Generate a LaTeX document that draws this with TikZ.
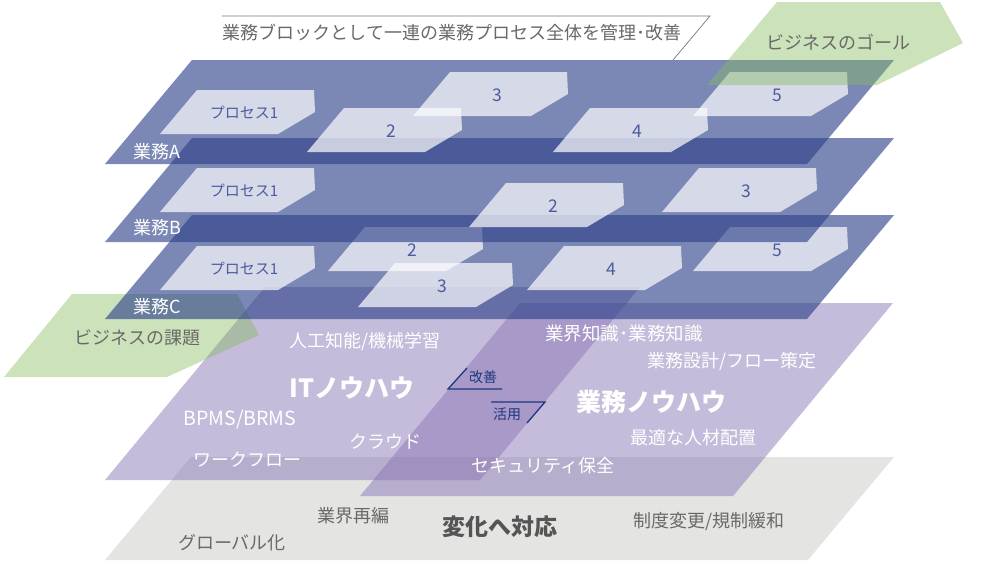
\documentclass[tikz,border=0pt]{standalone}
\usepackage{fontspec}
\setmainfont{Noto Sans CJK JP}
\definecolor{planeblue}{RGB}{46,65,138}
\definecolor{planepurple}{RGB}{139,119,183}
\definecolor{planegray}{RGB}{228,228,226}
\definecolor{goalgreen}{RGB}{132,187,92}
\definecolor{boxtext}{RGB}{78,92,158}
\definecolor{graytext}{RGB}{105,105,105}
\definecolor{darkgraytext}{RGB}{85,85,85}
\definecolor{navyline}{RGB}{30,55,125}
\definecolor{calloutline}{RGB}{120,120,120}
\tikzset{
  blueplane/.style={fill=planeblue, fill opacity=0.63},
  purpleplane/.style={fill=planepurple, fill opacity=0.5},
  grayplane/.style={fill=planegray},
  greenshape/.style={fill=goalgreen, fill opacity=0.42},
  procbox/.style={fill=white, fill opacity=0.69},
  boxlbl/.style={text=boxtext, inner sep=0pt, font=\fontsize{15}{17}\selectfont},
  numlbl/.style={text=boxtext, inner sep=0pt, font=\fontsize{17.5}{19}\selectfont},
  whitelbl/.style={text=white, inner sep=0pt, font=\fontsize{18}{20}\selectfont},
  biglbl/.style={text=white, inner sep=0pt, font=\fontsize{25}{28}\selectfont\bfseries},
  graylbl/.style={text=graytext, inner sep=0pt, font=\fontsize{18}{20}\selectfont},
  navylbl/.style={text=navyline, inner sep=0pt, font=\fontsize{14}{16}\selectfont},
  navymark/.style={draw=navyline, line width=1.3pt},
  callout/.style={draw=calloutline, line width=0.7pt},
}
\newcommand\bizplane[1]{%
  \fill[blueplane] (105,#1) -- (807,#1) -- (894,#1-104) -- (192,#1-104) -- cycle;}
\newcommand\procshape[5]{%
  \fill[procbox] (#2,#3) -- ++(37,-44) -- ++(117,0) -- ++(1,22) -- ++(-37,22) -- cycle;
  \node[#5] (#1) at (#2+84,#3-21) {#4};}
\begin{document}
\begin{tikzpicture}[x=1pt,y=-1pt]
\useasboundingbox (0,0) rectangle (985,573);
% bottom gray plane
\fill[grayplane] (105,560) -- (808,560) -- (894,457) -- (191,457) -- cycle;
% purple planes
\fill[purpleplane] (105,480) -- (480,480) -- (640,287) -- (265,287) -- cycle;
\fill[purpleplane] (360,496) -- (733,496) -- (893,303) -- (520,303) -- cycle;
% left green shape
\fill[greenshape] (4,377) -- (72,294) -- (237,294) -- (259,335) -- (167,377) -- cycle;
% plane C
\bizplane{319}
\procshape{pC1}{160}{290}{プロセス1}{boxlbl}
\procshape{pC2}{328}{271}{2}{numlbl}
\procshape{pC3}{358}{307}{3}{numlbl}
\procshape{pC4}{527}{290}{4}{numlbl}
\procshape{pC5}{693}{271}{5}{numlbl}
% plane B
\bizplane{242}
\procshape{pB1}{160}{212}{プロセス1}{boxlbl}
\procshape{pB2}{469}{227}{2}{numlbl}
\procshape{pB3}{662}{212}{3}{numlbl}
% plane A
\bizplane{164}
\procshape{pA1}{160}{134}{プロセス1}{boxlbl}
\procshape{pA2}{307}{152}{2}{numlbl}
\procshape{pA3}{413}{116}{3}{numlbl}
\procshape{pA4}{553}{152}{4}{numlbl}
\procshape{pA5}{693}{116}{5}{numlbl}
% right green shape
\fill[greenshape] (707,85) -- (777,2) -- (940,2) -- (963,43) -- (877,85) -- cycle;
% callout
\coordinate (c1) at (222,16);
\coordinate (c2) at (710,16);
\coordinate (c3) at (673,60);
\draw[callout] (c1) -- (c2) -- (c3);
\node[text=graytext, inner sep=0pt, font=\fontsize{18}{20}\selectfont] (callouttext) at (452,33) {業務ブロックとして一連の業務プロセス全体を管理･改善};
% green labels
\node[graylbl] (goal) at (838,42) {ビジネスのゴール};
\node[graylbl] (issue) at (137,338) {ビジネスの課題};
% plane labels
\node[whitelbl] (lblA) at (157,152) {業務A};
\node[whitelbl] (lblB) at (157,228) {業務B};
\node[whitelbl] (lblC) at (157,307) {業務C};
% IT know-how plane
\node[whitelbl] (ai) at (365,342) {人工知能/機械学習};
\node[biglbl] (it) at (352,388) {ITノウハウ};
\node[whitelbl, font=\fontsize{19.5}{21}\selectfont] (bpms) at (240,419) {BPMS/BRMS};
\node[whitelbl] (cloud) at (385,442) {クラウド};
\node[whitelbl] (wf) at (247,460) {ワークフロー};
% business know-how plane
\node[whitelbl, font=\fontsize{18.5}{20}\selectfont] (know) at (624,334) {業界知識･業務知識};
\node[whitelbl] (design) at (732,362) {業務設計/フロー策定};
\node[biglbl] (biz) at (651,402) {業務ノウハウ};
\node[whitelbl] (staff) at (693,438) {最適な人材配置};
\node[whitelbl] (sec) at (543,466) {セキュリティ保全};
% markers
\coordinate (k1) at (467,368);
\coordinate (k2) at (448,389);
\coordinate (k3) at (502,389);
\draw[navymark] (k1) -- (k2) -- (k3);
\node[navylbl] (kaizen) at (483,377) {改善};
\coordinate (h1) at (491,402);
\coordinate (h2) at (545,402);
\coordinate (h3) at (527,423);
\draw[navymark] (h1) -- (h2) -- (h3);
\node[navylbl] (katsuyo) at (507,414) {活用};
% gray plane labels
\node[graylbl] (reorg) at (353,516) {業界再編};
\node[graylbl] (global) at (232,543) {グローバル化};
\node[text=darkgraytext, inner sep=0pt, font=\fontsize{23}{26}\selectfont\bfseries] (change) at (500,527) {変化へ対応};
\node[graylbl] (reg) at (709,522) {制度変更/規制緩和};
\end{tikzpicture}
\end{document}
